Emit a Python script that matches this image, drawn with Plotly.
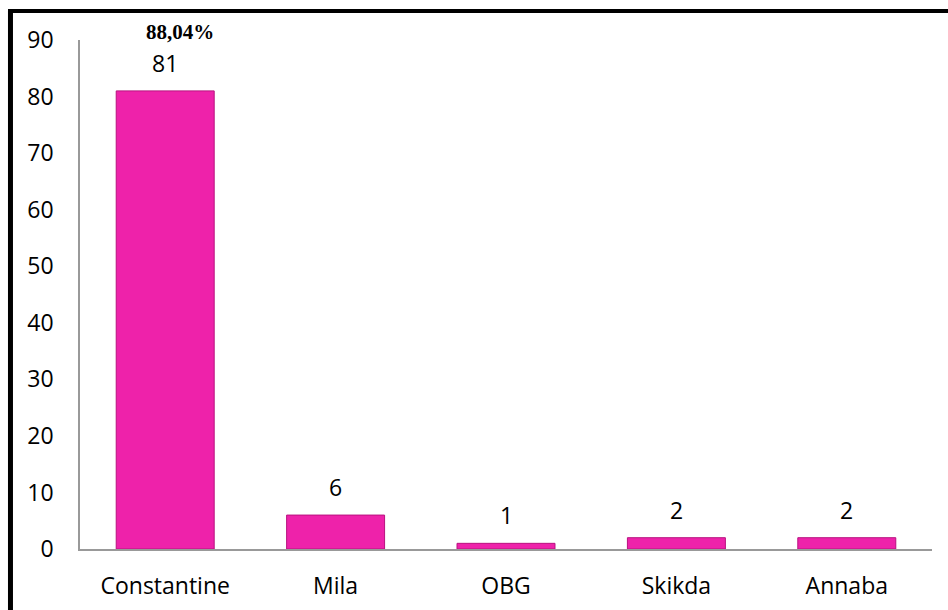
import plotly.graph_objects as go

# Number of cases by wilaya of origin
wilayas = ["Constantine", "Mila", "OBG", "Skikda", "Annaba"]
counts = [81, 6, 1, 2, 2]
share_label = "88,04%"  # share of Constantine among all cases

y_ticks = [0, 10, 20, 30, 40, 50, 60, 70, 80, 90]

BAR_FILL = "#EE22AA"
BAR_EDGE = "#B8127F"
AXIS_GREY = "#999999"
FONT = "Open Sans"

fig = go.Figure()

fig.add_trace(go.Bar(
    x=wilayas,
    y=counts,
    width=0.575,
    marker=dict(color=BAR_FILL, line=dict(color=BAR_EDGE, width=1)),
    hoverinfo="x+y",
))

# Value labels above each bar
for w, c in zip(wilayas, counts):
    fig.add_annotation(
        x=w, y=c, text=str(c), showarrow=False,
        yanchor="middle", yshift=28,
        font=dict(family=FONT, size=23, color="black"),
    )

# Percentage note over the leading bar
fig.add_annotation(
    x=wilayas[0], y=counts[0], text=f"<b>{share_label}</b>", showarrow=False,
    yanchor="middle", yshift=59, xshift=15,
    font=dict(family="Liberation Serif", size=21, color="black"),
)

# Thick black frame on the left and top edges of the page
fig.add_shape(type="line", xref="paper", yref="paper",
              x0=-0.0816, x1=-0.0816, y0=1.057, y1=-0.2,
              line=dict(color="black", width=5))
fig.add_shape(type="line", xref="paper", yref="paper",
              x0=-0.0845, x1=1.1, y0=1.057, y1=1.057,
              line=dict(color="black", width=4))

fig.update_layout(
    width=948, height=610,
    margin=dict(l=80, r=16, t=40, b=61, autoexpand=False),
    paper_bgcolor="white", plot_bgcolor="white",
    showlegend=False,
    bargap=0.425,
    font=dict(family=FONT, size=23, color="black"),
)

fig.update_xaxes(
    showline=True, linecolor=AXIS_GREY, linewidth=1.5,
    showgrid=False, ticks="", ticklabelstandoff=16,
    tickfont=dict(family=FONT, size=23, color="black"),
    automargin=False,
)
fig.update_yaxes(
    range=[0, 90], tickvals=y_ticks,
    showline=True, linecolor=AXIS_GREY, linewidth=1.5,
    showgrid=False, zeroline=False, ticks="", ticklabelstandoff=20,
    tickfont=dict(family=FONT, size=23, color="black"),
    automargin=False,
)

fig.write_html("out.html")
